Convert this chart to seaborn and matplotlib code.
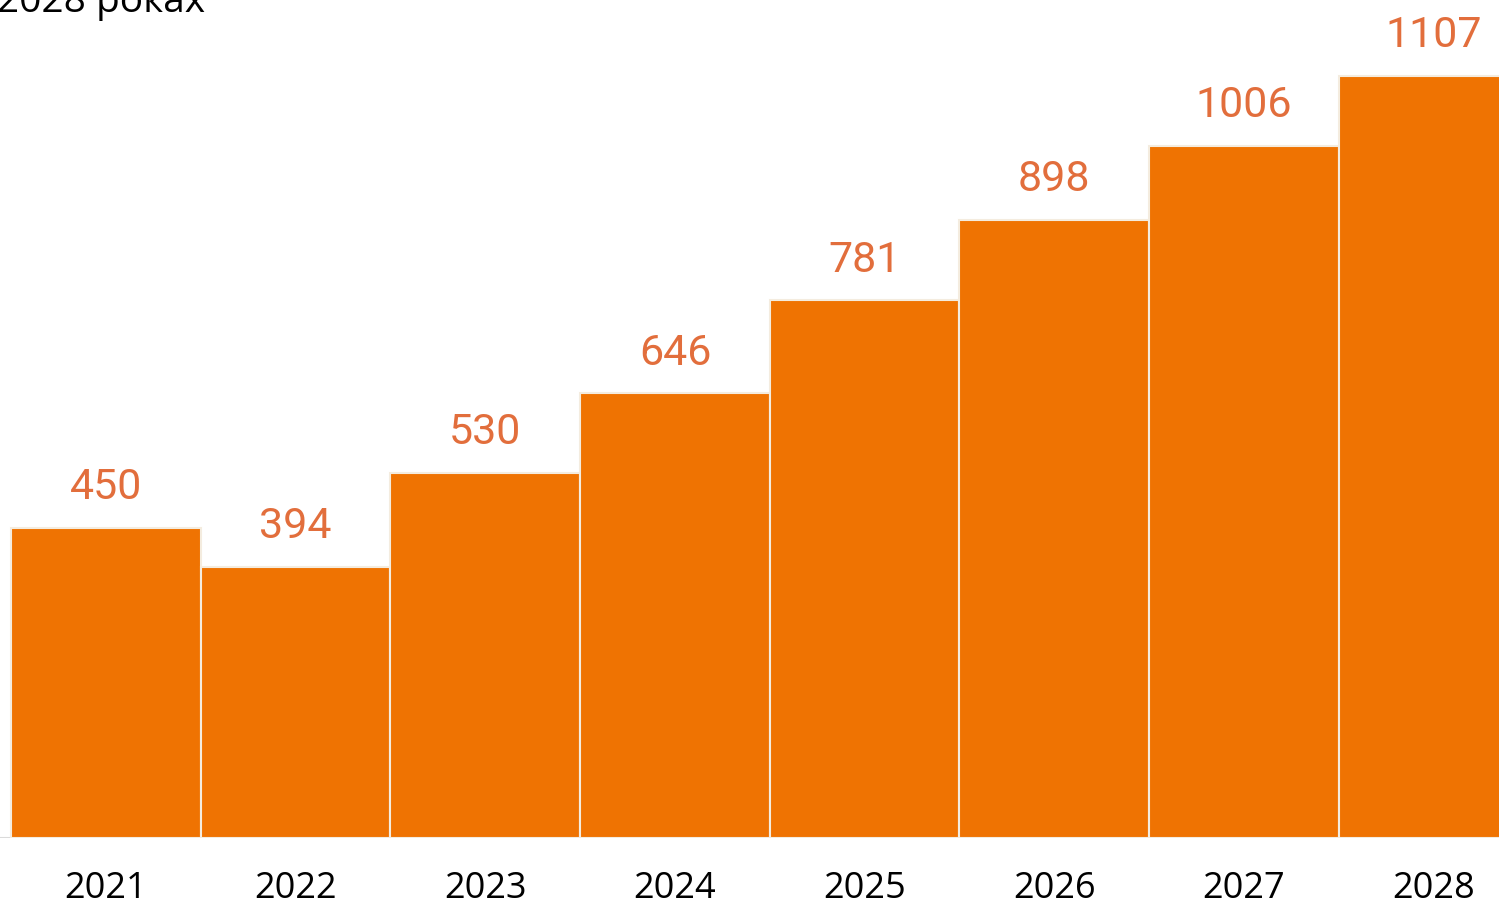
import matplotlib
matplotlib.use("Agg")
import matplotlib.pyplot as plt
import seaborn as sns
import pandas as pd

years = ["2021", "2022", "2023", "2024", "2025", "2026", "2027", "2028"]
values = [450, 394, 530, 646, 781, 898, 1006, 1107]
title_tail = "2028 роках"

bar_color = "#EF7302"
label_color = "#E26E3C"

sns.set_theme(style="white")
plt.rcParams["font.family"] = ["Open Sans", "DejaVu Sans"]

df = pd.DataFrame({"year": years, "value": values})

fig = plt.figure(figsize=(14.99, 9.04), dpi=100)
ax = fig.add_axes([0, 65 / 904, 1, 839 / 904])

sns.barplot(
    data=df,
    x="year",
    y="value",
    color=bar_color,
    saturation=1,
    width=1.0,
    edgecolor="#F4ECDF",
    linewidth=1.5,
    ax=ax
)

ax.bar_label(
    ax.containers[0],
    labels=[str(v) for v in values],
    padding=15,
    color=label_color,
    fontsize=31,
    family=["Roboto", "DejaVu Sans"]
)

ax.axhline(0, color="#DADADA", lw=1.5, zorder=0)

ax.set_xlim(-0.558, 7.344)
ax.set_ylim(0, 1219)
ax.set_xlabel("")
ax.set_ylabel("")
ax.set_yticks([])
ax.tick_params(axis="x", length=0, pad=23, labelsize=26, labelcolor="black")
for lab in ax.get_xticklabels():
    lab.set_fontweight("medium")
sns.despine(ax=ax, left=True, bottom=True)

fig.text(-0.002, 1 - 12 / 904, title_tail, fontsize=28, color="black",
         ha="left", va="baseline")

fig.savefig("out.png", dpi=100)
plt.close(fig)
